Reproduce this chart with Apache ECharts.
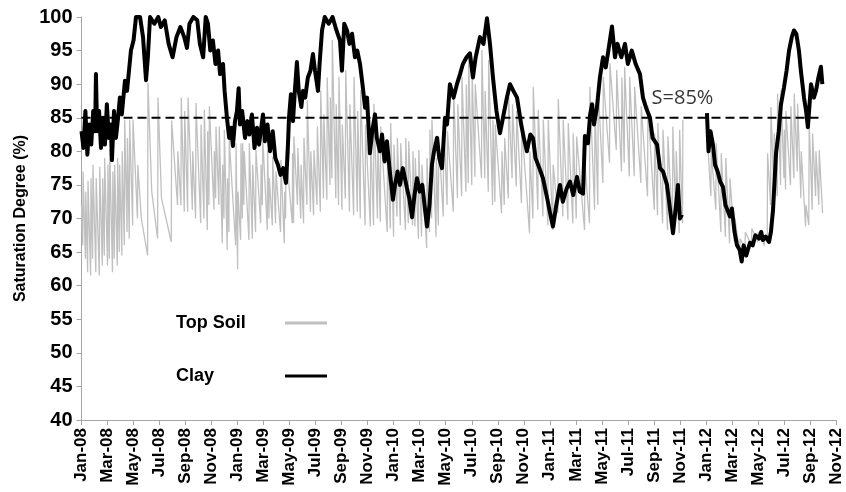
<!DOCTYPE html>
<html><head><meta charset="utf-8">
<script src="https://cdn.jsdelivr.net/npm/echarts@6/dist/echarts.min.js"></script>
<style>html,body{margin:0;padding:0;background:#fff}#c{width:846px;height:492px}</style>
</head><body><div id="c"></div>
<script>
// x = months since Jan-2008
const tickLabels = ['Jan-08','Mar-08','May-08','Jul-08','Sep-08','Nov-08','Jan-09','Mar-09','May-09','Jul-09','Sep-09','Nov-09','Jan-10','Mar-10','May-10','Jul-10','Sep-10','Nov-10','Jan-11','Mar-11','May-11','Jul-11','Sep-11','Nov-11','Jan-12','Mar-12','May-12','Jul-12','Sep-12','Nov-12'];
const threshold = 85;
const thresholdSpan = [0, 56.95];
const thresholdLabel = 'S=85%';
const thresholdLabelT = 46.2;

const topSoil = [
[0,72],[0.1,66],[0.12,77],[0.3,64],[0.33,74],[0.47,62],[0.5,75.6],[0.7,61.5],[0.73,76],[0.85,64],[0.88,78],[1.1,62],[1.13,76],[1.37,61.5],[1.4,77.7],[1.6,63],[1.63,76],[1.75,64.5],[1.78,79],[2.0,63],[2.03,78],[2.14,64],[2.17,80.3],[2.38,62],[2.41,77],[2.52,64],[2.55,78],[2.75,63],[2.78,79],[2.9,65],[2.93,78],[3.1,64.5],[3.13,80],[3.29,66],[3.32,84.7],[3.5,68],[3.53,82],[3.67,67],[3.7,84.7],[3.93,69],[3.96,84.7],[4.3,70],[4.33,78],[4.6,70],[5.08,64.5],[5.11,90.2],[5.4,74],[5.85,67],[5.88,88],[6.15,73],[6.9,66.5],[6.93,84.6],[7.38,72],[7.41,80],[7.64,72],[7.67,88],[7.9,71],[7.93,86],[8.16,71],[8.19,88],
[8.52,71.3],[8.55,80],[8.77,70],[8.8,87.2],[9.16,69.3],[9.19,84],[9.41,70],[9.44,86.2],[9.67,68.3],[9.7,83],[9.8,72],[9.83,86.7],[10.18,71.3],[10.21,80],[10.31,73],[10.34,83.7],[10.56,72],[10.59,83.7],[10.82,66.3],[10.85,78],[10.95,70],[10.98,83.2],[11.2,65.3],[11.23,76],[11.33,68],[11.36,81.7],[11.85,66],[11.88,81.2],[12.0,62.4],[12.03,74],[12.23,66.8],[12.26,81.2],[12.36,70],[12.39,81.2],[12.48,72],[12.51,80],[12.87,66.8],[12.9,81.2],[13.13,67],[13.16,78],[13.38,68],[13.41,80.2],[13.77,69.3],[13.8,78],[13.9,72],[13.93,82.2],[14.28,68.3],[14.31,80.2],[14.41,70],[14.44,76],[14.67,69],[14.7,79.2],[14.92,69.3],[14.95,77],[15.3,68],[15.33,78.7],[15.59,66.3],[15.62,74],[15.69,70],[15.72,80.2],[16.2,69.3],[16.23,79.7],
[16.3,69.3],[16.33,82.2],[16.6,72],[16.63,80.5],[16.85,70],[16.88,78],[17.07,69.3],[17.1,82],[17.33,72],[17.36,87.6],[17.6,71],[17.63,80],[17.84,70.5],[17.87,80.2],[18.1,72],[18.13,83.7],[18.36,71],[18.39,89.1],[18.6,73],[18.63,85.5],[18.86,72.8],[18.89,91],[19.1,75],[19.13,88],[19.25,76],[19.28,96.6],[19.55,73],[19.58,87],[19.76,72],[19.79,91.1],[20.02,71.3],[20.05,84],[20.28,73],[20.31,92.1],[20.6,71],[20.63,87],[20.92,70.5],[20.95,91.1],[21.2,71],[21.23,86],[21.43,70],[21.46,89.1],[21.8,69],[21.83,84],[22.2,68.8],[22.23,82],[22.45,69],[22.48,87.1],[22.75,70],[22.78,82],[22.97,69.5],[23.0,83.7],[23.5,68],[23.53,81],[23.74,68.5],[23.77,84.2],[23.99,67.3],[24.02,81],[24.25,70.3],[24.28,82],[24.51,69],[24.54,81.2],[24.9,68.3],[24.93,82],
[25.12,69.3],[25.15,81.5],[25.45,69],[25.48,80],[25.63,68.8],[25.66,79],[25.9,67],[25.93,80.2],[26.14,67.3],[26.17,78],[26.53,65.6],[26.56,79],[26.75,68],[26.78,83.2],[26.91,70],[26.94,84.7],[27.25,67.3],[27.28,79],[27.43,69],[27.46,82.2],[27.81,70.3],[27.84,84.7],[28.1,72],[28.13,83],[28.58,71],[28.61,89.1],[28.9,73],[28.93,87],[29.22,73.3],[29.25,91.1],[29.55,74],[29.58,90],[29.73,75.3],[29.76,94.1],[30.0,75],[30.03,92],[30.24,76.2],[30.27,90],[30.75,76],[30.78,95.1],[31.0,76],[31.03,89],[31.27,74],[31.3,93.6],[31.6,72],[31.63,84.7],[31.78,72.5],[31.81,84],[32.29,70.8],[32.32,80],[32.5,72],[32.53,82],[32.81,73],[32.84,88.1],
[33.1,76],[33.13,87],[33.42,74.8],[33.45,86],[33.82,72.3],[33.85,83.7],[34.44,67.8],[34.47,80],[34.7,70],[34.73,89.6],[35.08,71.3],[35.11,86.2],[35.47,70.3],[35.5,84.7],[35.85,69],[35.88,84.7],[36.23,68.3],[36.26,78],[36.62,70.8],[36.65,87.8],[37.0,70.3],[37.03,84.7],[37.39,69.8],[37.42,84.2],[37.77,69.3],[37.8,82.7],[38.03,70],[38.06,82.2],[38.67,68.3],[38.7,78],[39.05,69.3],[39.08,89.6],[39.44,71.3],[39.47,87],[39.69,72],[39.72,89.6],[40.08,75.3],[40.11,91.1],[40.59,78.3],[40.62,93.1],[41.11,80.2],[41.14,92.1],[41.51,77],[41.54,91],
[41.72,78.3],[41.75,92.6],[42.11,76.3],[42.14,91.1],[42.49,76.3],[42.52,89.6],[43.0,75.3],[43.03,86.7],[43.51,73.3],[43.54,86.7],[44.03,71.3],[44.06,82.7],[44.28,70.5],[44.31,84.2],[44.67,69.3],[44.7,83.2],[45.05,68.3],[45.08,82.2],[45.43,68.8],[45.46,83.7],[45.69,70],[45.72,80],[45.95,67.8],[45.98,83.2],[46.2,69.3],[46.23,84.7],
[47,'-'],
[48.03,84.7],[48.38,73.3],[48.41,80],[48.76,71.3],[48.79,81.2],[49.15,68],[49.18,79.7],[49.5,67.3],[49.53,79],[49.82,66.3],[49.85,76],
[50.2,66.5],[50.23,70],[50.6,65],[50.63,67],[51.0,65.5],[51.03,68],[51.5,66],[51.53,68.5],[52.0,66.5],[52.03,68],[52.5,66],[52.53,67.5],[52.71,66.5],[52.74,79.7],[52.97,72],[53.0,86.6],[53.22,74],[53.25,82.7],[53.48,73.3],[53.51,88.6],[53.74,75],[53.77,89.1],[54.0,76],[54.03,83.2],[54.12,74.3],[54.15,86],[54.5,75],[54.53,86.7],[54.76,76],[54.79,88.6],[55.02,77],[55.05,87.1],[55.3,73],[55.33,80],[55.66,68.8],[55.69,72],[55.91,69],[55.94,84.2],[56.17,71.3],[56.2,82.7],[56.43,73.3],[56.46,80],[56.68,72],[56.71,80.2],[56.97,70.8]
];

const clay = [
[0,83],[0.15,80.5],[0.3,86],[0.45,79.5],[0.6,84],[0.75,81],[0.9,86],[1.05,83],[1.11,91.5],[1.2,83],[1.35,86],[1.5,80.5],[1.65,85],[1.8,81],[1.95,87],[2.1,82],[2.25,84],[2.34,78.7],[2.5,86],[2.65,82],[2.81,85],[2.95,88],[3.1,85.5],[3.34,90.5],[3.5,89],[3.8,95],[4.0,96.5],[4.19,100],[4.5,100],[4.73,97],[4.96,90.6],[5.1,94],[5.27,100],
[5.6,99],[5.9,100],[6.1,98.5],[6.4,99.5],[6.7,96],[7.0,94],[7.3,97],[7.6,98.5],[7.9,97],[8.11,95.4],[8.3,99],[8.6,100],[8.9,99.5],[9.1,96],[9.35,94],[9.55,100],[9.72,99],[9.9,95],[10.1,96.5],[10.3,93],[10.5,95],[10.65,91.5],[10.88,93],[11.0,89],[11.18,85],[11.35,82],[11.5,83.5],[11.64,80.8],[11.8,84.5],[11.95,86],[12.08,89.4],[12.18,84],[12.35,86],[12.57,82],[12.75,84.5],[12.9,82.5],[13.1,85.5],[13.3,80.5],[13.49,83.5],[13.65,81],[13.85,84],[13.95,85.5],[14.1,81.5],[14.3,84],[14.49,80],[14.7,83],[14.9,79],[15.1,78],[15.3,76.5],[15.5,77.5],[15.72,75.3],[15.85,80],[15.95,85],
[16.1,88.5],[16.26,84.5],[16.4,89],[16.56,93.3],[16.7,89],[16.9,86.6],[17.03,89],[17.2,88],[17.4,91],[17.6,92],[17.79,94.5],[17.95,92],[18.18,89],[18.3,93],[18.49,98],[18.7,100],[19.0,99],[19.3,100],[19.6,98],[19.87,96.5],[20.02,92],[20.2,99],[20.41,98],[20.6,96],[20.8,97.5],[21.02,94],[21.2,95],[21.41,93],[21.6,90],[21.8,86.5],[21.95,88],[22.17,79.7],[22.35,83],[22.56,85.5],[22.7,82],[22.94,80],[23.1,82.5],[23.3,78.5],[23.48,81.5],[23.7,77],[23.94,72.8],[24.1,75],[24.3,77],[24.48,75],[24.7,77.5],[25.02,74.5],[25.2,73],[25.41,70.2],[25.6,73.5],[25.79,76],[26.0,74],[26.2,75],[26.4,71.5],[26.56,68.8],[26.75,72],[26.94,78],[27.1,80],[27.33,82],[27.5,79],[27.71,77.5],[27.94,85],
[28.1,84],[28.32,90],[28.6,88],[28.86,90],[29.1,91.5],[29.32,93],[29.6,94],[29.86,94.6],[30.09,91],[30.3,94],[30.63,97],[30.9,96],[31.17,99.8],[31.4,96],[31.63,91],[31.9,86],[32.17,82.7],[32.4,85],[32.7,88],[32.94,90],[33.2,89],[33.48,88],[33.8,84],[34.0,82],[34.24,80],[34.5,82.5],[34.71,82],[34.9,79],[35.2,77.5],[35.47,76],[35.8,73],[36.0,71],[36.24,68.8],[36.5,72],[36.78,75],[37.0,72.5],[37.3,74.5],[37.55,75.5],[37.8,73.5],[38.09,76.2],[38.3,74],[38.55,73.7],[38.7,82.3],[38.93,81.2],[39.1,85.5],[39.24,87],[39.4,84],[39.62,86.5],[39.85,91],[40.09,94],[40.3,92.5],[40.5,95],[40.78,98.6],[41.01,94],[41.2,96],[41.5,94],[41.78,96],[42.0,93],[42.3,95],[42.6,93],[42.93,91.5],[43.16,88],[43.4,86.5],[43.7,85],[43.9,82],[44.24,81],[44.47,77.5],[44.7,77],[45.01,75],[45.2,72],[45.47,67.8],[45.7,72],[45.85,75],[46.0,70],[46.16,70.6],
[47,'-'],
[48.08,85.7],[48.2,80],[48.35,83],[48.54,81],[48.7,78],[48.9,77],[49.1,75.5],[49.31,74.7],[49.5,72],[49.85,70.3],[50.0,71.5],[50.2,68],[50.39,66],[50.6,65.3],[50.75,63.6],[50.9,66],[51.1,64.5],[51.39,66.4],[51.6,66],[51.8,67.5],[52.08,67],[52.25,68],[52.38,66.8],[52.6,67.3],[52.85,66.5],[53.0,68],[53.16,71.3],[53.39,79.7],[53.6,83],[53.77,87],[54.0,89.5],[54.2,92],[54.39,95],[54.6,97],[54.77,98],[54.95,97.5],[55.15,95],[55.3,92],[55.54,88],[55.7,86],[55.84,83.6],[56.08,90],[56.3,88],[56.46,89],[56.65,91],[56.84,92.6],[56.95,90]
];

const chart = echarts.init(document.getElementById('c'), null, {renderer:'canvas'});
const FONT = '"Liberation Sans", Arial, sans-serif';
const axisGray = '#a6a6a6';
chart.setOption({
  animation: false,
  backgroundColor: '#fff',
  grid: {left: 81.5, right: 10, top: 17, bottom: 72, containLabel: false},
  legend: {
    data: [{name:'Top Soil', icon:'rect'}, {name:'Clay', icon:'rect'}],
    orient: 'vertical', align: 'right', left: 171, top: 309,
    itemWidth: 42, itemHeight: 3, itemGap: 35, selectedMode: false,
    formatter: n => '{t|' + n + '}',
    textStyle: {fontFamily: FONT, fontWeight: 'bold', fontSize: 18, color: '#000',
      rich: {t: {width: 104, align: 'left', fontFamily: FONT, fontWeight: 'bold', fontSize: 18, color: '#000'}}}
  },
  xAxis: {
    type: 'value', min: 0, max: 58, interval: 2,
    axisLine: {show: true, lineStyle: {color: axisGray, width: 1}},
    axisTick: {show: true, length: 5, lineStyle: {color: axisGray}},
    splitLine: {show: false},
    axisLabel: {rotate: 90, margin: 8, fontFamily: FONT, fontWeight: 'bold', fontSize: 17, color: '#000',
      formatter: v => tickLabels[Math.round(v/2)] || ''}
  },
  yAxis: {
    type: 'value', min: 40, max: 100, interval: 5,
    name: 'Saturation Degree (%)', nameLocation: 'middle', nameGap: 53,
    nameTextStyle: {fontFamily: FONT, fontWeight: 'bold', fontSize: 16, color: '#000'},
    axisLine: {show: true, lineStyle: {color: axisGray, width: 1}},
    axisTick: {show: true, length: 5, lineStyle: {color: axisGray}},
    splitLine: {show: false},
    axisLabel: {margin: 9, fontFamily: FONT, fontWeight: 'bold', fontSize: 20, color: '#000'}
  },
  series: [
    {name: 'Top Soil', type: 'line', data: topSoil, symbol: 'none', connectNulls: false,
     lineStyle: {color: '#c0c0c0', width: 1.3}, itemStyle: {color: '#c0c0c0'}, z: 2},
    {name: 'S', type: 'line', data: [[thresholdSpan[0], threshold], [thresholdSpan[1], threshold]], symbol: 'none',
     lineStyle: {color: '#000', width: 2, type: [9, 5]}, z: 3, silent: true},
    {name: 'Clay', type: 'line', data: clay, symbol: 'none', connectNulls: false,
     lineStyle: {color: '#000', width: 4, join: 'round'}, itemStyle: {color: '#000'}, z: 4},
    {name: 'label', type: 'scatter', data: [[thresholdLabelT, threshold]], symbolSize: 0, silent: true, z: 5,
     label: {show: true, position: 'top', distance: 9, formatter: thresholdLabel,
       fontFamily: '"Open Sans", sans-serif', fontSize: 20, color: '#000'}}
  ]
});
</script></body></html>
